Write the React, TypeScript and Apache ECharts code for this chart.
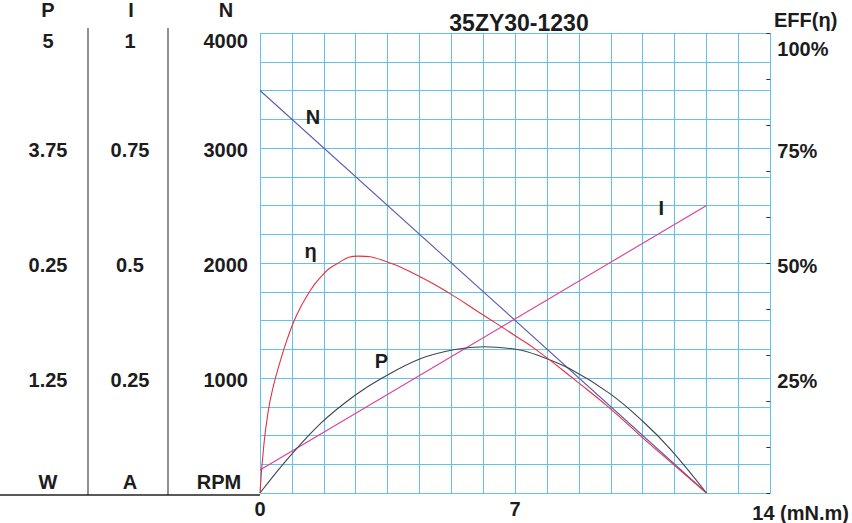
import React, { useEffect, useRef } from "react";
import * as echarts from "echarts";

// ---- data ----
const chartTitle = "35ZY30-1230";
const xTickValues = [0, 7, 14];
const xTickLabels = ["0", "7", "14"];
const xUnit = "(mN.m)";

const nTickLabels = ["1000", "2000", "3000", "4000"];
const iTickLabels = ["0.25", "0.5", "0.75", "1"];
const pTickLabels = ["1.25", "0.25", "3.75", "5"];
const effTickLabels = ["25%", "50%", "75%", "100%"];

// speed N (RPM) vs torque
const nTorque = [0, 12.25];
const nSpeed = [3500, 0];
// current I (A) vs torque
const iTorque = [0, 12.25];
const iCurrent = [0.05, 0.625];
// efficiency (%) vs torque
const effTorque = [0, 0.1, 0.22, 0.36, 0.55, 0.75, 1.0, 1.3, 1.65, 2.1, 2.7, 3.4, 4.3, 5.2, 6.1, 7.0, 7.6, 8.7, 9.6, 10.5, 11.4, 12.25];
const effValue = [0, 10.0, 17.5, 23.0, 28.5, 33.5, 38.6, 43.0, 46.8, 49.8, 51.5, 50.5, 47.4, 43.4, 38.8, 34.2, 31.0, 24.2, 18.4, 12.0, 5.8, 0];
// output power P (W) vs torque
const pTorque = [0, 0.8, 1.7, 2.6, 3.35, 4.4, 5.35, 6.15, 7.05, 7.6, 8.5, 9.6, 10.5, 11.25, 12.25];
const pPower = [0, 0.39, 0.77, 1.06, 1.25, 1.46, 1.56, 1.59, 1.56, 1.5, 1.35, 1.08, 0.78, 0.48, 0];

// curve name labels (data coordinates)
const nLabelAt = [1.45, 3273];
const effLabelAt = [1.39, 52.6];
const pLabelAt = [3.33, 1.43];
const iLabelAt = [11.01, 0.619];

const FONT = "'Liberation Sans', Arial, Helvetica, sans-serif";
const TXT = "#1c1c1c";
const GRID = "#62c3e6";
const C_N = "#5a5cae";
const C_I = "#de3c98";
const C_EFF = "#e8303e";
const C_P = "#3e4352";

const zip = (xs: number[], ys: number[]) => xs.map((x, i) => [x, ys[i]]);

const baseFont = { fontFamily: FONT, fontSize: 20, fontWeight: "bold" as const, color: TXT };

function quarterLabel(labels: string[], max: number, richTop: string, richMid: string) {
  return (v: number) => {
    const step = max / 4;
    const k = Math.round(v / step);
    if (k < 1 || Math.abs(v - k * step) > max * 1e-6) return "";
    const t = labels[k - 1];
    return k === 4 ? `{${richTop}|${t}}` : `{${richMid}|${t}}`;
  };
}

export default function App() {
  const ref = useRef<HTMLDivElement>(null);
  useEffect(() => {
    if (!ref.current) return;
    const chart = echarts.init(ref.current, undefined, { renderer: "svg" });

    const leftRich = {
      top: { ...baseFont, padding: [16, 0, 0, 0] },
      mid: { ...baseFont, padding: [4, 0, 0, 0] },
    };
    const rightRich = {
      top: { ...baseFont, padding: [32, 0, 0, 0] },
      mid: { ...baseFont, padding: [6, 0, 0, 0] },
    };

    const markLabel = (coord: number[], text: string) => ({
      silent: true,
      symbol: "circle",
      symbolSize: 0,
      itemStyle: { color: "transparent" },
      label: { show: true, position: "inside", formatter: text, ...baseFont },
      data: [{ coord }],
    });

    const option: any = {
      animation: false,
      backgroundColor: "#ffffff",
      title: {
        text: chartTitle,
        left: 514,
        top: 6,
        textAlign: "center",
        textStyle: { ...baseFont, fontSize: 23 },
      },
      grid: { left: 260, right: 77, top: 33, bottom: 28, containLabel: false },
      xAxis: {
        type: "value",
        min: 0,
        max: 14,
        interval: 0.875,
        axisLine: { show: false },
        axisTick: { show: false },
        splitLine: { show: true, lineStyle: { color: GRID, width: 1 } },
        axisLabel: {
          ...baseFont,
          margin: 6,
          formatter: (v: number) => {
            const i = xTickValues.findIndex((t) => Math.abs(t - v) < 1e-9);
            if (i < 0 || i === xTickValues.length - 1) return "";
            return xTickLabels[i];
          },
        },
        name: `${xTickLabels[xTickLabels.length - 1]} ${xUnit}`,
        nameLocation: "end",
        nameGap: -18,
        nameTextStyle: { ...baseFont, verticalAlign: "top", align: "left", padding: [10, 0, 0, 0] },
      },
      yAxis: [
        {
          type: "value",
          position: "left",
          min: 0,
          max: 4000,
          interval: 250,
          axisLine: { show: false },
          axisTick: { show: false },
          splitLine: { show: true, lineStyle: { color: GRID, width: 1 } },
          axisLabel: { margin: 12, align: "right", formatter: quarterLabel(nTickLabels, 4000, "top", "mid"), rich: leftRich },
        },
        {
          type: "value",
          position: "left",
          offset: 130,
          min: 0,
          max: 1,
          interval: 0.0625,
          axisLine: { show: false },
          axisTick: { show: false },
          splitLine: { show: false },
          axisLabel: { margin: 0, align: "center", formatter: quarterLabel(iTickLabels, 1, "top", "mid"), rich: leftRich },
        },
        {
          type: "value",
          position: "left",
          offset: 212,
          min: 0,
          max: 5,
          interval: 0.3125,
          axisLine: { show: false },
          axisTick: { show: false },
          splitLine: { show: false },
          axisLabel: { margin: 0, align: "center", formatter: quarterLabel(pTickLabels, 5, "top", "mid"), rich: leftRich },
        },
        {
          type: "value",
          position: "right",
          min: 0,
          max: 100,
          interval: 25,
          axisLine: { show: false },
          axisTick: { show: false },
          splitLine: { show: false },
          axisLabel: { margin: 7, align: "left", formatter: quarterLabel(effTickLabels, 100, "top", "mid"), rich: rightRich },
        },
        {
          type: "value",
          position: "right",
          min: 0,
          max: 100,
          interval: 10,
          axisLine: { show: false },
          axisTick: { show: true, inside: true, length: 4, lineStyle: { color: "#333", width: 1 } },
          splitLine: { show: false },
          axisLabel: { show: false },
        },
      ],
      series: [
        {
          name: "N",
          type: "line",
          yAxisIndex: 0,
          data: zip(nTorque, nSpeed),
          showSymbol: false,
          lineStyle: { color: C_N, width: 1.1 },
          markPoint: markLabel(nLabelAt, "N"),
        },
        {
          name: "I",
          type: "line",
          yAxisIndex: 1,
          data: zip(iTorque, iCurrent),
          showSymbol: false,
          lineStyle: { color: C_I, width: 1.1 },
          markPoint: markLabel(iLabelAt, "I"),
        },
        {
          name: "P",
          type: "line",
          yAxisIndex: 2,
          data: zip(pTorque, pPower),
          showSymbol: false,
          smooth: 0.4,
          lineStyle: { color: C_P, width: 1.1 },
          markPoint: markLabel(pLabelAt, "P"),
        },
        {
          name: "η",
          type: "line",
          yAxisIndex: 3,
          data: zip(effTorque, effValue),
          showSymbol: false,
          smooth: 0.5,
          lineStyle: { color: C_EFF, width: 1.1 },
          markPoint: markLabel(effLabelAt, "η"),
        },
      ],
      graphic: [
        { type: "line", shape: { x1: 88, y1: 28, x2: 88, y2: 495 }, style: { stroke: "#555", lineWidth: 1.3 }, silent: true },
        { type: "line", shape: { x1: 168, y1: 28, x2: 168, y2: 495 }, style: { stroke: "#555", lineWidth: 1.3 }, silent: true },
        { type: "line", shape: { x1: 0, y1: 495, x2: 260, y2: 495 }, style: { stroke: "#222", lineWidth: 1.3 }, silent: true },
        { type: "text", x: 48, y: 10, style: { text: "P", fill: TXT, align: "center", verticalAlign: "middle", font: `bold 20px ${FONT}` } },
        { type: "text", x: 131, y: 10, style: { text: "I", fill: TXT, align: "center", verticalAlign: "middle", font: `bold 20px ${FONT}` } },
        { type: "text", x: 226, y: 10, style: { text: "N", fill: TXT, align: "center", verticalAlign: "middle", font: `bold 20px ${FONT}` } },
        { type: "text", x: 48, y: 482, style: { text: "W", fill: TXT, align: "center", verticalAlign: "middle", font: `bold 20px ${FONT}` } },
        { type: "text", x: 130, y: 482, style: { text: "A", fill: TXT, align: "center", verticalAlign: "middle", font: `bold 20px ${FONT}` } },
        { type: "text", x: 219, y: 482, style: { text: "RPM", fill: TXT, align: "center", verticalAlign: "middle", font: `bold 20px ${FONT}` } },
        { type: "text", x: 774, y: 20, style: { text: "EFF(η)", fill: TXT, align: "left", verticalAlign: "middle", font: `bold 20px ${FONT}` } },
      ],
    };

    chart.setOption(option);
    return () => chart.dispose();
  }, []);

  return (
    <div
      ref={ref}
      style={{ position: "fixed", left: 0, top: 0, width: 852, height: 523, background: "#fff" }}
    />
  );
}
